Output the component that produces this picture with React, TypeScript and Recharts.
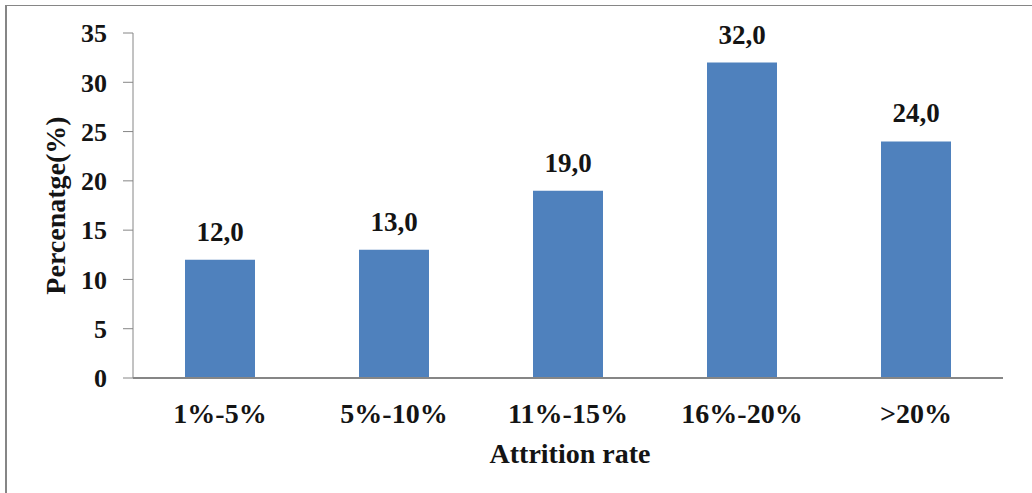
import React from 'react';
import { BarChart, Bar, XAxis, YAxis, LabelList } from 'recharts';

// Share of respondents by attrition-rate band
const categories = ['1%-5%', '5%-10%', '11%-15%', '16%-20%', '>20%'];
const percentages = [12.0, 13.0, 19.0, 32.0, 24.0];
const yTicks = [0, 5, 10, 15, 20, 25, 30, 35];

const data = categories.map((band, i) => ({ band, value: percentages[i] }));

const FONT = '"Liberation Serif", "Times New Roman", serif';
const INK = '#141414';
const AXIS = '#868686';
const BAR = '#4F81BD';

const formatValue = (v: number) => v.toFixed(1).replace('.', ',');

export default function App() {
  return (
    <div style={{ position: 'absolute', left: 0, top: 0, width: 1032, height: 493, overflow: 'hidden', background: '#fff' }}>
      <div
        style={{
          position: 'absolute',
          left: 5,
          top: 5,
          width: 1100,
          height: 600,
          borderLeft: `2px solid ${AXIS}`,
          borderTop: `1px solid ${AXIS}`,
        }}
      />
      <div style={{ position: 'absolute', left: 0, top: 0 }}>
        <BarChart
          width={1032}
          height={493}
          data={data}
          margin={{ top: 33, right: 29, bottom: 0, left: 0 }}
        >
          <XAxis
            dataKey="band"
            height={115}
            tickLine={false}
            tickSize={0}
            tickMargin={25}
            axisLine={{ stroke: AXIS, strokeWidth: 2 }}
            tick={{ fill: INK, fontFamily: FONT, fontWeight: 700, fontSize: 28 }}
            label={{
              value: 'Attrition rate',
              position: 'insideBottom',
              offset: 30,
              dx: 2,
              fill: INK,
              fontFamily: FONT,
              fontWeight: 700,
              fontSize: 28,
            }}
          />
          <YAxis
            width={133}
            domain={[0, 35]}
            ticks={yTicks}
            interval={0}
            tickSize={10}
            tickMargin={16}
            axisLine={{ stroke: AXIS, strokeWidth: 1 }}
            tickLine={{ stroke: AXIS, strokeWidth: 1 }}
            tick={{ fill: INK, fontFamily: FONT, fontWeight: 700, fontSize: 26 }}
            label={{
              value: 'Percenatge(%)',
              angle: -90,
              position: 'center',
              dx: -11,
              dy: 0,
              fill: INK,
              fontFamily: FONT,
              fontWeight: 700,
              fontSize: 28,
            }}
          />
          <Bar dataKey="value" fill={BAR} barSize={70} isAnimationActive={false}>
            <LabelList
              dataKey="value"
              position="top"
              offset={19}
              formatter={(v: any) => formatValue(Number(v))}
              fill={INK}
              fontFamily={FONT}
              fontWeight={700}
              fontSize={27}
            />
          </Bar>
        </BarChart>
      </div>
    </div>
  );
}
